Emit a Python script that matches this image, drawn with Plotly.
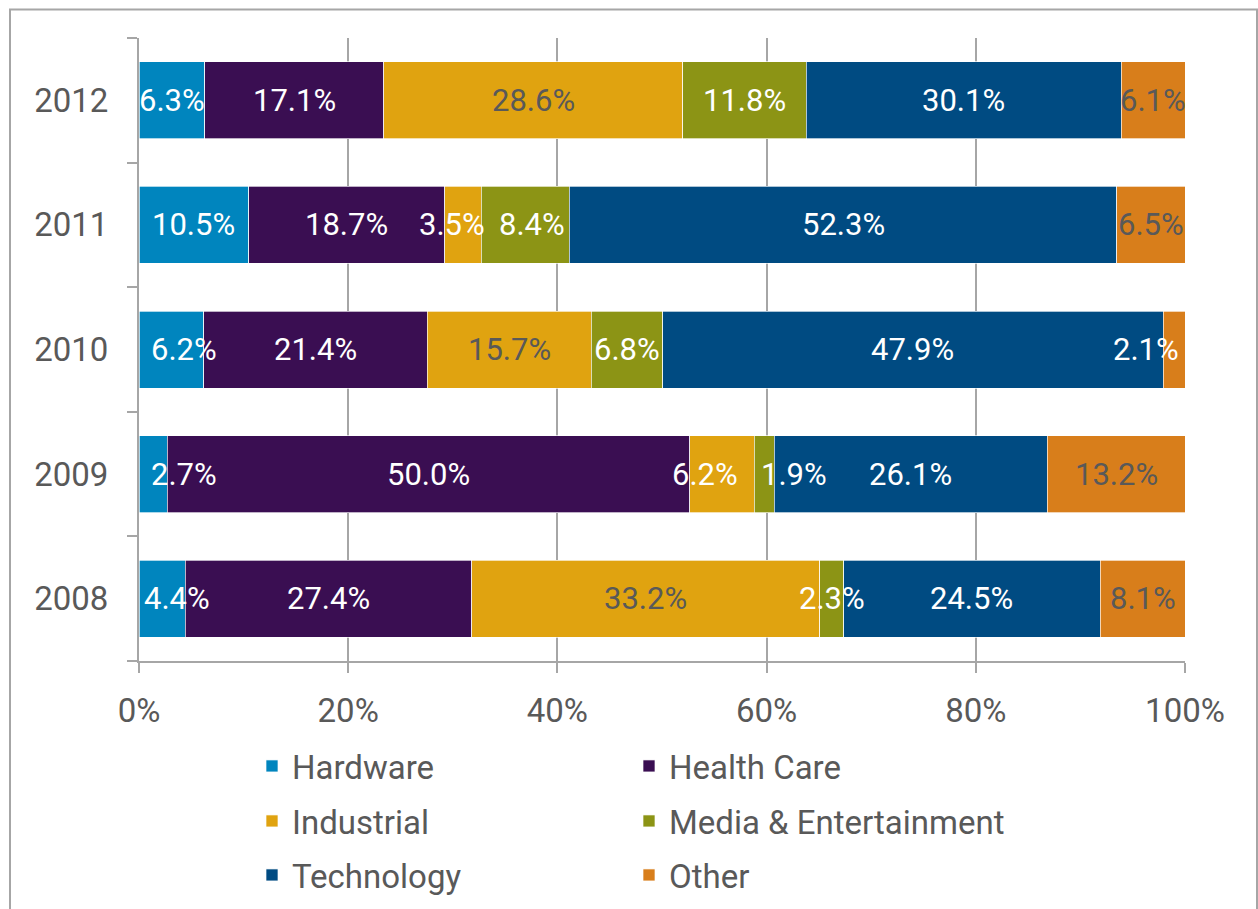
import plotly.graph_objects as go

# Deal share by sector, per year (percent of total)
years = ["2008", "2009", "2010", "2011", "2012"]
sectors = ["Hardware", "Health Care", "Industrial", "Media & Entertainment", "Technology", "Other"]
hardware = [4.4, 2.7, 6.2, 10.5, 6.3]
health_care = [27.4, 50.0, 21.4, 18.7, 17.1]
industrial = [33.2, 6.2, 15.7, 3.5, 28.6]
media = [2.3, 1.9, 6.8, 8.4, 11.8]
technology = [24.5, 26.1, 47.9, 52.3, 30.1]
other = [8.1, 13.2, 2.1, 6.5, 6.1]
x_ticks = [0, 20, 40, 60, 80, 100]

series = [hardware, health_care, industrial, media, technology, other]
colors = ["#0085BE", "#3A0E52", "#E0A310", "#8C9415", "#004B82", "#D87E1B"]

GRAY = "#595959"
LINE = "#A6A6A6"
FONT = "Roboto"

# label colour per sector; some small labels spill onto dark neighbours and use white
label_color = {1: "white", 0: "white", 3: "white", 4: "white", 2: GRAY, 5: GRAY}
label_color_override = {("2011", 2): "white", ("2009", 2): "white", ("2010", 5): "white"}
# pixel nudges for labels that would collide or leave the plot area
label_shift = {
    ("2011", 2): -11, ("2011", 3): 7,
    ("2010", 0): 13, ("2010", 5): -28,
    ("2009", 0): 31, ("2009", 2): -17, ("2009", 3): 30,
    ("2008", 0): 15,
}

# one legend box per sector, laid out as a 2-column grid (pixel anchors)
legend_ids = ["legend", "legend2", "legend3", "legend4", "legend5", "legend6"]
legend_px = [(252, 766), (629, 766), (252, 821), (629, 821), (252, 875), (629, 875)]

fig = go.Figure()
for i, (name, vals) in enumerate(zip(sectors, series)):
    fig.add_trace(go.Bar(
        y=years, x=vals, name=name, orientation="h",
        marker=dict(color=colors[i], line=dict(color="rgba(255,255,255,0.85)", width=0.8)),
        legend=legend_ids[i], showlegend=True,
        hovertemplate="%{y}: %{x:.1f}%<extra>" + name + "</extra>",
    ))

# value labels centred on each normalised segment (y given as category index)
annotations = []
for j, yr in enumerate(years):
    total = sum(s[j] for s in series)
    cum = 0.0
    for i, vals in enumerate(series):
        v = vals[j]
        mid = (cum + v / 2) / total * 100
        cum += v
        annotations.append(dict(
            x=mid, y=j, xref="x", yref="y", text=f"{v:.1f}%", showarrow=False,
            xshift=label_shift.get((yr, i), 0),
            font=dict(family=FONT, size=31, color=label_color_override.get((yr, i), label_color[i])),
        ))

# outer chart frame
L, R, T, B = 139, 73, 38, 248
PW, PH = 1258 - L - R, 909 - T - B
def px_x(p):
    return (p - L) / PW
def px_y(p):
    return (909 - B - p) / PH

fig.update_layout(
    barmode="stack", barnorm="percent", bargap=0.382,
    width=1258, height=909, showlegend=True,
    margin=dict(l=L, r=R, t=T, b=B, autoexpand=False),
    paper_bgcolor="white", plot_bgcolor="white",
    font=dict(family=FONT, color=GRAY),
    annotations=annotations,
    shapes=[dict(type="rect", xref="paper", yref="paper",
                 x0=px_x(10), x1=px_x(1257), y0=px_y(1000), y1=px_y(9.5),
                 line=dict(color=LINE, width=2), fillcolor="rgba(0,0,0,0)", layer="below")],
    xaxis=dict(range=[0, 100], tickmode="array", tickvals=x_ticks,
               ticktext=[f"{t}%" for t in x_ticks],
               showgrid=True, gridcolor=LINE, gridwidth=1.5,
               showline=True, linecolor=LINE, linewidth=2,
               ticks="outside", ticklen=10, tickcolor=LINE, tickwidth=2,
               ticklabelstandoff=9, zeroline=False, automargin=False,
               tickfont=dict(family=FONT, size=33, color=GRAY)),
    yaxis=dict(type="category", categoryorder="array", categoryarray=years,
               range=[-0.5, len(years) - 0.5], autorange=False,
               showline=True, linecolor=LINE, linewidth=2, showgrid=False,
               ticks="outside", ticklen=10, tickcolor=LINE, tickwidth=2,
               tickson="boundaries", ticklabelstandoff=22, automargin=False,
               tickfont=dict(family=FONT, size=33, color=GRAY)),
)

legend_layout = {}
for lid, (lx, ly) in zip(legend_ids, legend_px):
    legend_layout[lid] = dict(orientation="h", xanchor="left", yanchor="middle",
                              x=px_x(lx), y=px_y(ly), visible=True,
                              font=dict(family=FONT, size=33, color=GRAY),
                              bgcolor="rgba(0,0,0,0)")
fig.update_layout(**legend_layout)

fig.write_html("out.html")
